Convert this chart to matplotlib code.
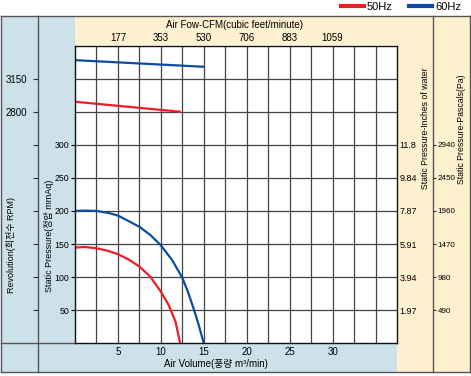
import matplotlib
matplotlib.use("Agg")
import matplotlib.pyplot as plt
from matplotlib.patches import Rectangle
from matplotlib.lines import Line2D

plt.rcParams['font.family'] = ['Liberation Sans', 'Noto Sans CJK KR', 'DejaVu Sans']
NARROW = ['Liberation Sans Narrow', 'Liberation Sans', 'DejaVu Sans']

# fan curve data
air_50 = [0, 1.2, 2.5, 3.9, 5, 6.2, 7.5, 8.75, 10, 10.9, 11.7, 12.25]
pres_50 = [144.7, 145.5, 143.6, 139.6, 134.6, 127, 116, 101, 78, 58, 33, 0]
air_60 = [0, 1.2, 2.5, 3.9, 5, 6.2, 7.5, 8.75, 10, 11.3, 12.5, 13.2, 13.8, 14.4, 15]
pres_60 = [200, 200.5, 200, 197, 193, 185, 176, 164, 148, 126, 99, 76, 53, 28, 0]

# revolution lines (RPM)
rpm_air_50 = [0, 12.2]
rpm_50 = [2905, 2800]
rpm_air_60 = [0, 15]
rpm_60 = [3345, 3275]

x_ticks = [5, 10, 15, 20, 25, 30]
y_ticks = [50, 100, 150, 200, 250, 300]
cfm_ticks = [177, 353, 530, 706, 883, 1059]
rpm_ticks = [2800, 3150]
inch_labels = ['1.97', '3.94', '5.91', '7.87', '9.84', '11.8']
pa_labels = ['490', '980', '1470', '1960', '2450', '2940']

RED = '#ee1c25'
BLUE = '#0a4da2'
TAN = '#fff1cf'
SKY = '#cde1eb'

W, H = 471, 376
fig = plt.figure(figsize=(W / 100, H / 100), dpi=100)


def fx(x):
    return x / W


def fy(y):
    return 1 - y / H


def panel(x0, y0, x1, y1, color):
    fig.add_artist(Rectangle((fx(x0), fy(y1)), (x1 - x0) / W, (y1 - y0) / H,
                             transform=fig.transFigure, facecolor=color,
                             edgecolor='none', zorder=-2))


def rule(x0, y0, x1, y1, color='#555555', lw=1):
    fig.add_artist(Line2D([fx(x0), fx(x1)], [fy(y0), fy(y1)],
                          transform=fig.transFigure, color=color, lw=lw, zorder=-1))


# background panels
panel(1, 16, 75, 372, SKY)
panel(1, 343, 397, 372, SKY)
panel(75, 16, 470, 46, TAN)
panel(397, 16, 470, 372, TAN)

# frame and divider lines
rule(1, 16, 470, 16)
rule(1, 372, 470, 372)
rule(1, 16, 1, 372)
rule(470, 16, 470, 372)
rule(38, 16, 38, 372)
rule(433, 16, 433, 372)
rule(1, 343.3, 75, 343.3)

# main plot
top, bottom = 45.5, 343.3
ax = fig.add_axes([fx(75), fy(bottom), 322 / W, (bottom - top) / H])
ax.set_xlim(0, 37.5)
ax.set_ylim(0, 450)

ax.set_xticks(x_ticks)
ax.set_xticks([v * 2.5 for v in range(1, 15)], minor=True)
ax.set_yticks(y_ticks)
ax.set_yticks([350, 400], minor=True)
ax.grid(True, which='both', color='#444444', lw=0.9)
ax.tick_params(axis='x', which='both', length=0, pad=2.5, labelsize=7)
ax.tick_params(axis='y', which='major', length=3, pad=1, labelsize=6.3, direction='out')
ax.tick_params(axis='y', which='minor', length=0)
for s in ax.spines.values():
    s.set_color('#111111')
    s.set_linewidth(1)

l50, = ax.plot(air_50, pres_50, color=RED, lw=1.6, label='50Hz')
l60, = ax.plot(air_60, pres_60, color=BLUE, lw=1.6, label='60Hz')


def rpm2p(r):
    return 350 + (r - 2800) / 7.0


def p2rpm(p):
    return 2800 + (p - 350) * 7.0


ax.plot(rpm_air_50, [rpm2p(r) for r in rpm_50], color=RED, lw=1.6)
ax.plot(rpm_air_60, [rpm2p(r) for r in rpm_60], color=BLUE, lw=1.6)

# top CFM axis
cfm = ax.secondary_xaxis('top', functions=(lambda v: v * 35.3147, lambda c: c / 35.3147))
cfm.set_xticks(cfm_ticks)
cfm.tick_params(length=0, pad=1.5, labelsize=7)
cfm.spines['top'].set_visible(False)

# RPM axis on the left divider
rpm_ax = ax.secondary_yaxis((38 - 75) / 322, functions=(p2rpm, rpm2p))
rpm_all = [p2rpm(p) for p in range(50, 450, 50)]
rpm_ax.set_yticks(rpm_all)
rpm_ax.set_yticklabels([str(int(round(r))) if int(round(r)) in rpm_ticks else '' for r in rpm_all])
rpm_ax.tick_params(length=3.5, pad=4.5, labelsize=7, color='#333333')
rpm_ax.spines['left'].set_visible(False)

# inches of water axis
inch = ax.secondary_yaxis('right', functions=(lambda p: p / 25.4, lambda i: i * 25.4))
inch.set_yticks([p / 25.4 for p in y_ticks])
inch.set_yticklabels(inch_labels, family=NARROW)
inch.tick_params(length=0, pad=2, labelsize=6.5)
inch.spines['right'].set_visible(False)

# pascal axis
pa = ax.secondary_yaxis((433 - 75) / 322, functions=(lambda p: p * 9.8, lambda v: v / 9.8))
pa.set_yticks([p * 9.8 for p in y_ticks])
pa.set_yticklabels(pa_labels, family=NARROW)
pa.tick_params(length=2.5, pad=1, labelsize=5.8, color='#333333')
pa.spines['right'].set_visible(False)

# axis titles
fig.text(fx(235), fy(25), 'Air Fow-CFM(cubic feet/minute)', ha='center', va='center', fontsize=7)
fig.text(fx(216), fy(364), 'Air Volume(풍량 m³/min)', ha='center', va='center', fontsize=7)
fig.text(fx(11), fy(245), 'Revolution(회전수 RPM)', ha='center', va='center', rotation=90, fontsize=6.5)
fig.text(fx(49), fy(236), 'Static Pressure(정압 mmAq)', ha='center', va='center', rotation=90, fontsize=6.5)
fig.text(fx(425), fy(128), 'Static Pressure-Inches of water', ha='center', va='center', rotation=90, fontsize=6.3)
fig.text(fx(462), fy(129), 'Static Pressure-Pascals(Pa)', ha='center', va='center', rotation=90, fontsize=6.3)

leg = fig.legend(handles=[l50, l60], loc='center right', bbox_to_anchor=(fx(461), fy(7)),
                 ncol=2, frameon=False, fontsize=8, borderpad=0, borderaxespad=0,
                 handlelength=2.0, handletextpad=0.3, columnspacing=1.5)
for ln in leg.get_lines():
    ln.set_linewidth(3)

fig.savefig('out.png', dpi=100)
